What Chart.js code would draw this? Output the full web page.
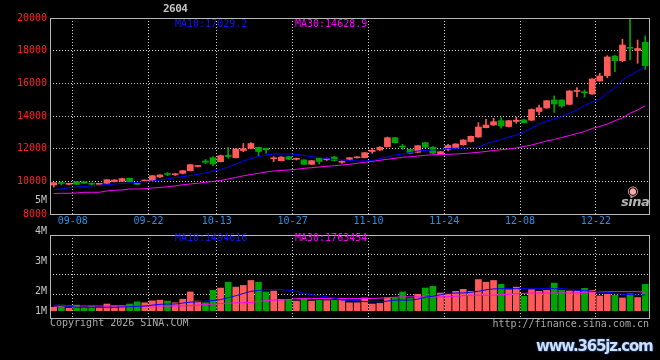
<!DOCTYPE html>
<html>
<head>
<meta charset="utf-8">
<script src="https://cdn.jsdelivr.net/npm/chart.js@4.4.1/dist/chart.umd.min.js"></script>
<style>
  html,body{margin:0;padding:0;background:#000;}
  body{width:660px;height:360px;overflow:hidden;position:relative;font-family:'DejaVu Sans Mono',monospace;font-size:10px;}
  .box{position:absolute;left:0;width:660px;}
  .t{position:absolute;white-space:nowrap;line-height:12px;font-size:10px;font-family:'DejaVu Sans Mono',monospace;}
</style>
</head>
<body>
<div class="box" style="top:0;height:232px;"><canvas id="pc"></canvas></div>
<div class="box" style="top:226px;height:134px;"><canvas id="vc"></canvas></div>
<div id="texts"></div>
<script>
// ---------- data ----------
const dates = ['09-03','09-04','09-05','09-08','09-09','09-10','09-11','09-12','09-15','09-16',
  '09-17','09-18','09-19','09-22','09-23','09-24','09-25','09-26','09-29','09-30',
  '10-09','10-10','10-13','10-14','10-15','10-16','10-17','10-20','10-21','10-22',
  '10-23','10-24','10-27','10-28','10-29','10-30','10-31','11-03','11-04','11-05',
  '11-06','11-07','11-10','11-11','11-12','11-13','11-14','11-17','11-18','11-19',
  '11-20','11-21','11-24','11-25','11-26','11-27','11-28','12-01','12-02','12-03',
  '12-04','12-05','12-08','12-09','12-10','12-11','12-12','12-15','12-16','12-17',
  '12-18','12-19','12-22','12-23','12-24','12-25','12-26','12-29','12-30'];
const axisDates = ['09-08','09-22','10-13','10-27','11-10','11-24','12-08','12-22'];
const priceTicks = [8000,10000,12000,14000,16000,18000,20000];

const open = [9776,9898,9819,9978,9978,9849,9819,9880,9978,10002,
  10186,9855,10021,10039,10266,10449,10400,10492,10651,10909,
  11245,11447,11202,11601,11447,11888,12023,12084,12023,11380,
  11264,11509,11349,11307,11043,11411,11319,11490,11166,11349,
  11441,11447,11827,11919,12121,12672,12163,11961,11778,12366,
  12084,11674,11961,12041,12243,12439,12715,13284,13449,13712,
  13357,13664,13761,13743,14276,14490,14980,14980,14716,15500,
  15482,15347,16143,16467,17674,17386,18206,18010,18512];
const close = [9917,9862,9849,9819,9880,9825,9849,10100,10082,10162,
  9978,9819,10051,10345,10388,10419,10449,10651,11019,10951,
  11166,11062,11570,11521,11980,11998,12317,11827,11937,11429,
  11484,11349,11380,11043,11264,11215,11398,11276,11202,11447,
  11478,11753,11900,12090,12672,12366,12102,11717,12182,12084,
  11717,11815,12194,12286,12531,12757,13327,13449,13651,13388,
  13712,13743,13590,14398,14502,14937,14735,14612,15531,15549,
  15421,16265,16449,17612,17386,18347,18145,18133,17080];
const high = [9929,9960,9868,9990,9990,9898,9868,10113,10113,10204,
  10204,9868,10082,10358,10419,10541,10480,10676,11043,10970,
  11337,11509,11613,12072,12011,12318,12378,12102,12041,11509,
  11509,11533,11429,11325,11288,11429,11429,11533,11264,11472,
  11509,11778,12023,12121,12715,12696,12267,11980,12206,12390,
  12121,11839,12267,12305,12549,12776,13590,13798,13859,13896,
  13737,13921,13786,14434,14674,14962,15225,14998,15561,15733,
  15592,16296,16614,17692,17692,18696,20000,18653,18898];
const low = [9653,9776,9788,9807,9868,9776,9807,9868,9960,9990,
  9960,9807,9990,10021,10235,10345,10358,10449,10633,10878,
  11092,10957,11184,11411,11429,11815,11980,11570,11717,11202,
  11245,11325,11307,11019,11019,11062,11276,11245,11104,11325,
  11411,11429,11717,11888,12102,12348,11949,11692,11753,12060,
  11692,11656,11857,12023,12206,12408,12684,13266,13431,13253,
  13327,13553,13578,13725,14061,14472,14214,14533,14692,15182,
  15145,15316,16125,16345,16712,17325,17429,17227,16859];
const ma10 = [9500,9531,9604,9653,9684,9715,9758,9794,9837,9868,
  9898,9941,9990,10021,10082,10143,10235,10284,10358,10419,
  10511,10633,10725,10878,11062,11245,11398,11509,11613,11674,
  11674,11674,11655,11582,11509,11460,11398,11337,11307,11276,
  11245,11245,11276,11386,11490,11613,11674,11766,11857,11888,
  11919,11949,12011,12023,12041,12072,12084,12286,12439,12562,
  12715,12837,13021,13247,13511,13694,13817,13970,14184,14368,
  14643,14857,15041,15408,15715,16204,16510,16755,17029];
const ma30 = [9255,9268,9268,9286,9329,9329,9329,9409,9451,9470,
  9531,9531,9549,9592,9623,9672,9715,9788,9837,9880,
  9941,9990,10051,10143,10235,10339,10419,10492,10572,10633,
  10664,10694,10737,10798,10835,10878,10921,10958,11000,11043,
  11104,11166,11227,11288,11349,11410,11472,11509,11551,11594,
  11625,11643,11655,11674,11704,11735,11778,11827,11888,11937,
  11980,12041,12133,12225,12347,12470,12562,12684,12806,12929,
  13051,13235,13358,13511,13713,13878,14166,14368,14629];
// volume, millions
const vol = [0.32,0.53,0.22,0.53,0.32,0.44,0.28,0.63,0.47,0.47,
  0.63,0.84,0.75,0.93,1.00,0.91,0.75,1.09,1.78,0.91,
  0.75,1.93,2.15,2.71,2.24,2.40,2.87,2.71,1.78,1.87,
  1.07,1.07,0.91,1.09,0.91,1.00,0.95,1.00,1.00,0.75,
  0.75,1.21,0.63,0.69,1.21,1.21,1.78,1.16,1.56,2.15,
  2.31,1.68,1.56,1.84,2.03,1.84,2.96,2.71,2.87,2.50,
  2.00,2.24,1.37,2.00,1.84,1.93,2.62,1.93,1.87,1.87,
  2.12,1.93,1.40,1.56,1.47,1.21,1.61,1.25,2.50];
const volMa10 = [0.53,0.49,0.39,0.32,0.32,0.32,0.32,0.32,0.32,0.35,
  0.37,0.41,0.44,0.53,0.60,0.63,0.63,0.72,0.81,0.84,
  0.91,0.97,1.05,1.23,1.42,1.63,1.84,1.91,2.00,2.00,
  2.00,1.93,1.84,1.65,1.51,1.42,1.33,1.19,1.00,1.00,
  0.95,0.86,0.84,0.84,0.91,1.00,1.00,1.00,1.09,1.28,
  1.37,1.51,1.65,1.68,1.68,1.75,1.84,1.98,2.07,2.09,
  2.09,2.09,2.09,2.09,2.09,2.09,2.09,2.09,2.03,1.93,
  1.93,1.84,1.78,1.75,1.65,1.56,1.53,1.47,1.49];
const volMa30 = [0.44,0.44,0.44,0.44,0.44,0.44,0.44,0.44,0.44,0.44,
  0.44,0.44,0.44,0.44,0.44,0.44,0.44,0.44,0.49,0.53,
  0.58,0.63,0.67,0.72,0.75,0.75,0.79,0.86,0.95,1.00,
  1.00,1.05,1.14,1.16,1.16,1.16,1.16,1.16,1.16,1.16,
  1.16,1.16,1.16,1.19,1.23,1.28,1.31,1.31,1.31,1.31,
  1.31,1.31,1.33,1.37,1.42,1.47,1.47,1.47,1.47,1.51,
  1.56,1.61,1.65,1.68,1.68,1.68,1.68,1.68,1.68,1.68,
  1.75,1.78,1.79,1.81,1.81,1.81,1.81,1.81,1.76];
const volGridTicks = [1.5,3.4,5.3];
const volAxisLabels = ['5M','4M','3M','2M','1M'];
const priceMaText = ['MA10:17029.2','MA30:14628.9'];
const volMaText = ['MA10:1494616','MA30:1763454'];

// ---------- styles ----------
const RED = '#ff5a5a', GREEN = '#00a400', BLUE = '#0000ff', MAG = '#ff00ff';
const GRID = '#cfcfcf', FRAME = '#b8b8b8';
const FONT = "'DejaVu Sans Mono', monospace";
Chart.defaults.font.family = FONT;
Chart.defaults.font.size = 10;

const candleColor = open.map((o,i) => close[i] >= o ? RED : GREEN);
const isDateTick = c => c.tick !== undefined && axisDates.includes(dates[c.index]);

const frame = {
  id:'frame',
  afterDraw(chart){
    const {ctx, chartArea:a} = chart;
    ctx.save();
    ctx.strokeStyle = FRAME; ctx.lineWidth = 1;
    ctx.strokeRect(Math.round(a.left)+0.5, Math.round(a.top)+0.5, Math.round(a.right-a.left), Math.round(a.bottom-a.top));
    ctx.restore();
  }
};

const xAxisCommon = (showLabels) => ({
  offset:true,
  grid:{offset:true, drawTicks:false, lineWidth:1, color: c => isDateTick(c) ? GRID : 'transparent'},
  border:{display:false, dash:[1,2]},
  ticks:{display:showLabels, autoSkip:false, maxRotation:0, minRotation:0, color:'#2690e8', padding:1,
    labelOffset:-3.8, font:{family:FONT, size:10},
    callback:(v,i) => axisDates.includes(dates[i]) ? dates[i] : ''},
  afterFit: s => { s.height = showLabels ? 18 : 0; }
});

new Chart(document.getElementById('pc'), {
  type:'bar',
  data:{labels:dates, datasets:[
    {type:'line', data:ma10, borderColor:BLUE, borderWidth:1, pointRadius:0, tension:0},
    {type:'line', data:ma30, borderColor:MAG, borderWidth:1, pointRadius:0, tension:0},
    {data:open.map((o,i)=>[o, close[i]]), backgroundColor:candleColor, barThickness:6, minBarLength:1, grouped:false},
    {data:low.map((l,i)=>[l, high[i]]), backgroundColor:candleColor, barThickness:1, minBarLength:1, grouped:false}
  ]},
  options:{
    animation:false, responsive:true, maintainAspectRatio:false,
    layout:{padding:{top:18, right:11, left:0, bottom:0}},
    plugins:{legend:{display:false}, tooltip:{enabled:false}},
    scales:{
      x: xAxisCommon(true),
      y:{min:8000, max:20000,
        afterBuildTicks: s => { s.ticks = priceTicks.map(v => ({value:v})); },
        ticks:{color:'#ff2424', padding:3, font:{family:FONT, size:10}, callback: v => String(v)},
        grid:{drawTicks:false, color: c => (c.tick && c.tick.value > 8000 && c.tick.value < 20000) ? GRID : 'transparent'},
        border:{display:false, dash:[1,2]},
        afterFit: s => { s.width = 50; }}
    }
  },
  plugins:[frame]
});

new Chart(document.getElementById('vc'), {
  type:'bar',
  data:{labels:dates, datasets:[
    {type:'line', data:volMa10, borderColor:BLUE, borderWidth:1, pointRadius:0, tension:0},
    {type:'line', data:volMa30, borderColor:MAG, borderWidth:1, pointRadius:0, tension:0},
    {data:vol, backgroundColor:candleColor, barThickness:6}
  ]},
  options:{
    animation:false, responsive:true, maintainAspectRatio:false,
    layout:{padding:{top:9, right:11, left:0, bottom:42}},
    plugins:{legend:{display:false}, tooltip:{enabled:false}},
    scales:{
      x: xAxisCommon(false),
      y:{min:-0.7, max:7.2,
        afterBuildTicks: s => { s.ticks = volGridTicks.map(v => ({value:v})); },
        ticks:{display:false},
        grid:{drawTicks:false, color:GRID},
        border:{display:false, dash:[1,2]},
        afterFit: s => { s.width = 50; }}
    }
  },
  plugins:[frame]
});

// ---------- static texts ----------
const T = document.getElementById('texts');
function txt(s, css){ const d = document.createElement('div'); d.className='t'; d.textContent = s; d.style.cssText += css; T.appendChild(d); return d; }
txt('2604', 'left:163px;top:3px;color:#c4c4c4;font-weight:bold;font-size:11px;letter-spacing:-0.5px;');
txt(priceMaText[0], 'left:175px;top:18px;color:#1414ee;');
txt(priceMaText[1], 'left:295px;top:18px;color:#ff00ff;');
txt(volMaText[0], 'left:175px;top:232px;color:#1414ee;');
txt(volMaText[1], 'left:295px;top:232px;color:#ff00ff;');
const volLabelTop = [194, 225, 255, 285, 305];
volAxisLabels.forEach((s,i) => txt(s, 'right:613px;top:'+volLabelTop[i]+'px;color:#c4c4c4;text-align:right;'));
txt('Copyright 2026 SINA.COM', 'left:50px;top:317px;color:#a8a8a8;');
txt('http://finance.sina.com.cn', 'right:11px;top:318px;color:#a8a8a8;');
// sina logo
txt('◉', 'left:627px;top:184px;color:#f4a8a8;font-size:13px;line-height:14px;font-family:"DejaVu Sans";');
txt('sina', 'left:621px;top:195px;color:#b4b4b4;font-size:13px;line-height:14px;font-weight:bold;font-style:italic;font-family:"DejaVu Sans";letter-spacing:-0.5px;');
// watermark
txt('www.365jz.com', 'left:536px;top:337px;color:#cfe0f2;font-size:15px;line-height:18px;font-weight:bold;font-family:"DejaVu Sans";letter-spacing:-1.2px;text-shadow:0 0 2px #1b3b7a,0 0 2px #1b3b7a,1px 1px 1px #0a1f4a;');
</script>
</body>
</html>
